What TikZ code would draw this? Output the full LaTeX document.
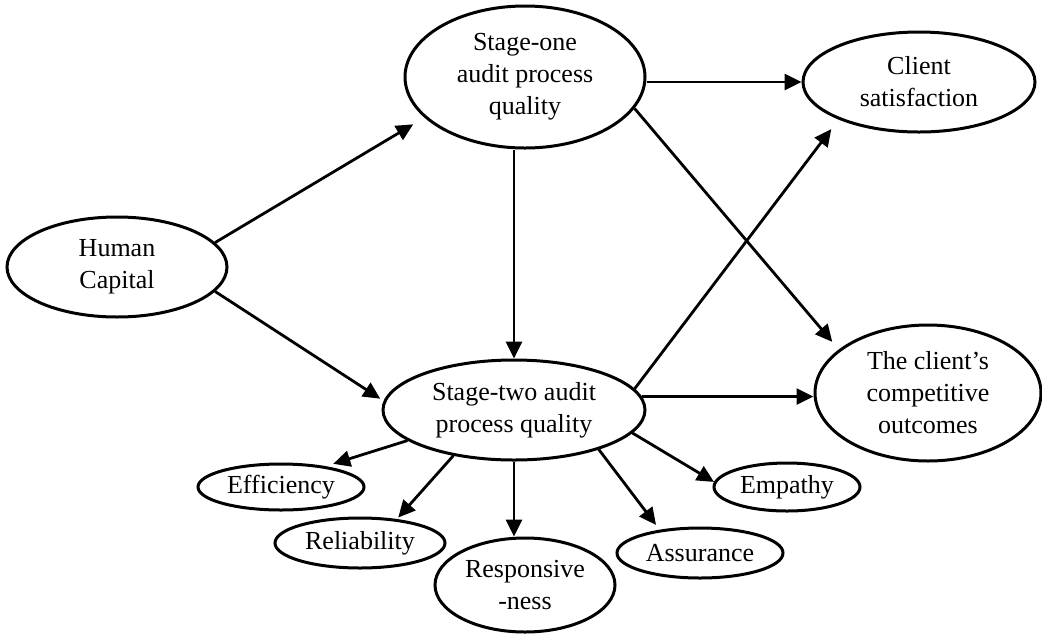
\documentclass[tikz,border=0pt]{standalone}
\usepackage{fontspec}
\setmainfont{Liberation Serif}
\usetikzlibrary{arrows.meta,shapes.geometric}
\begin{document}
\begin{tikzpicture}[x=1pt,y=-1pt,
  el/.style={draw, ellipse, line width=3pt, inner sep=0pt, align=center,
    font=\fontsize{26}{32}\selectfont},
  arr/.style={line width=2.8pt, -{Triangle[length=17pt,width=16pt]}}]
\useasboundingbox (0,0) rectangle (1042,633);
% main constructs
\node[el, minimum width=240pt, minimum height=142pt] (s1) at (525,77) {Stage-one\\audit process\\quality};
\node[el, minimum width=232pt, minimum height=100pt] (cs) at (919,82) {Client\\satisfaction};
\node[el, minimum width=220pt, minimum height=100pt] (hc) at (117,267) {Human\\Capital};
\node[el, minimum width=262pt, minimum height=100pt] (s2) at (514,410) {Stage-two audit\\process quality};
\node[el, minimum width=226pt, minimum height=136pt] (co) at (928,393) {The client’s\\competitive\\outcomes};
% service-quality dimensions
\node[el, minimum width=166pt, minimum height=46pt] (eff) at (281,487) {Efficiency};
\node[el, minimum width=170pt, minimum height=50pt] (rel) at (360,543) {Reliability};
\node[el, minimum width=180pt, minimum height=94pt] (resp) at (525,585) {Responsive\\-ness};
\node[el, minimum width=166pt, minimum height=50pt] (ass) at (700,553) {Assurance};
\node[el, minimum width=146pt, minimum height=48pt] (emp) at (787,487) {Empathy};
% paths
\draw[arr, shorten >=13pt] (hc.14) -- (s1.202);
\draw[arr, shorten >=4pt] (hc.-14) -- (s2.176);
\draw[arr] (s2.north |- s1.south) -- (s2.north);
\draw[arr] (s1.east |- cs.west) -- (cs.west);
\draw[arr, shorten >=10pt] (s1.-16) -- (co.154);
\draw[arr, shorten >=12pt] (s2.10) -- (cs.205);
\draw[arr] (s2.6) -- (s2.6 -| co.west);
\draw[arr, shorten >=8pt] (s2.196) -- (eff.25);
\draw[arr, shorten >=2pt] (s2.217) -- (rel.33);
\draw[arr] (s2.south) -- (s2.south |- resp.north);
\draw[arr, shorten >=6pt] (s2.-25) -- (ass.150);
\draw[arr] (s2.-11) -- (emp.176);
\end{tikzpicture}
\end{document}
